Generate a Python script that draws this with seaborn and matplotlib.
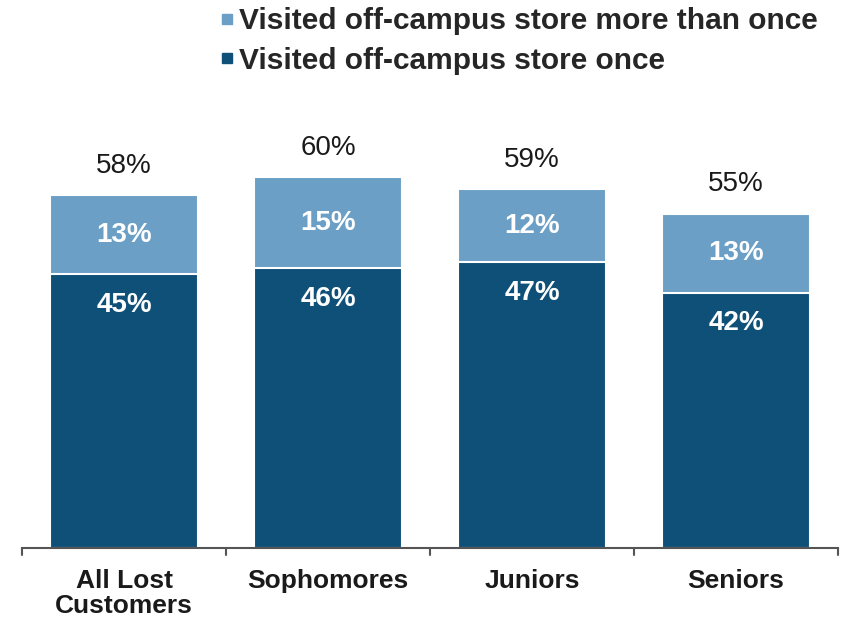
import matplotlib
matplotlib.use("Agg")
import matplotlib.pyplot as plt
import seaborn as sns
import pandas as pd
import numpy as np
from matplotlib.lines import Line2D

categories = ["All Lost\nCustomers", "Sophomores", "Juniors", "Seniors"]
once = [45, 46, 47, 42]
more_than_once = [13, 15, 12, 13]
totals = [58, 60, 59, 55]
series_names = ["Visited off-campus store more than once", "Visited off-campus store once"]

DARK = "#0f5079"
LIGHT = "#6b9fc6"

sns.set_theme(style="white")
plt.rcParams["font.family"] = ["Liberation Sans", "DejaVu Sans"]

df = pd.DataFrame({"cat": categories, "once": once, "more": more_than_once})
df["stack"] = df["once"] + df["more"]

fig = plt.figure(figsize=(8.41, 6.21), dpi=100)
ax = fig.add_axes([22 / 841, 1 - 548 / 621, 816 / 841, 425.6 / 621])

sns.barplot(data=df, x="cat", y="stack", color=LIGHT, saturation=1, width=0.725,
            edgecolor="white", linewidth=1.5, ax=ax)
sns.barplot(data=df, x="cat", y="once", color=DARK, saturation=1, width=0.725,
            edgecolor="white", linewidth=1.5, ax=ax)

ax.set_xlim(-0.5, 3.5)
ax.set_ylim(0, 70)
ax.set_xlabel("")
ax.set_ylabel("")
ax.set_yticks([])
for s in ["top", "right", "left"]:
    ax.spines[s].set_visible(False)
ax.spines["bottom"].set_color("#555555")
ax.spines["bottom"].set_linewidth(1.5)

ax.set_xticks([0, 1, 2, 3])
ax.set_xticklabels(categories, fontsize=19, fontweight="bold", color="#1a1a1a", linespacing=1.05)
ax.tick_params(axis="x", length=0, pad=15)
# boundary ticks
for b in [-0.5, 0.5, 1.5, 2.5, 3.5]:
    ax.plot([b, b], [0, -1.2], color="#555555", lw=1.5, clip_on=False)

for i in range(len(categories)):
    s = df["stack"][i]
    o = once[i]
    ax.annotate(f"{totals[i]}%", (i, s), xytext=(0, 21), textcoords="offset points",
                ha="center", va="center", fontsize=20, color="#1a1a1a")
    ax.text(i, o + more_than_once[i] / 2, f"{more_than_once[i]}%", ha="center", va="center",
            fontsize=20, fontweight="bold", color="white")
    ax.annotate(f"{o}%", (i, o), xytext=(0, -22), textcoords="offset points",
                ha="center", va="center", fontsize=20, fontweight="bold", color="white")

handles = [Line2D([], [], marker="s", linestyle="none", markersize=7, color=LIGHT),
           Line2D([], [], marker="s", linestyle="none", markersize=7, color=DARK)]
fig.legend(handles, series_names, loc="upper left", bbox_to_anchor=(188 / 841, 1.032),
           frameon=False, handletextpad=0.0, handlelength=0.8,
           labelspacing=0.4, prop={"weight": "bold", "size": 21.5})

fig.savefig("out.png", dpi=100, facecolor="white")
